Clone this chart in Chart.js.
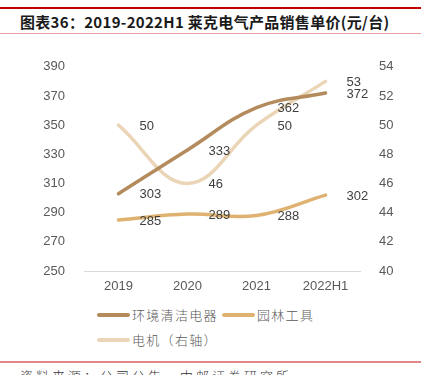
<!DOCTYPE html>
<html>
<head>
<meta charset="utf-8">
<script src="https://cdn.jsdelivr.net/npm/chart.js@4/dist/chart.umd.min.js"></script>
<style>
  html, body { margin: 0; padding: 0; background: #fff; }
  body { width: 421px; height: 375px; position: relative; overflow: hidden; font-family: "Noto Sans CJK SC", sans-serif; }
  .topline { position: absolute; left: 0; top: 7px; width: 421px; height: 2px; background: #C00000; }
  .title { position: absolute; left: 20px; top: 12px; font-size: 15px; font-weight: bold; color: #1a1a1a; white-space: nowrap; line-height: 20px; letter-spacing: 0.3px; }
  .subline { position: absolute; left: 0; top: 33px; width: 421px; height: 1px; background: #E8A0A0; }
  .chartbox { position: absolute; left: 0; top: 40px; width: 421px; height: 260px; }
  .legend { position: absolute; left: 97px; top: 305px; width: 320px; }
  .legend .item { position: absolute; display: flex; align-items: center; font-size: 13px; color: #595959; letter-spacing: 1.3px; white-space: nowrap; font-weight: 300; }
  .legend .swatch { width: 33px; height: 4px; border-radius: 2px; margin-right: 2px; }
  .botline { position: absolute; left: 0; top: 361px; width: 421px; height: 2px; background: #E08888; }
  .source { position: absolute; left: 20px; top: 366px; font-size: 13px; color: #333; letter-spacing: 3px; white-space: nowrap; font-weight: 300; }
</style>
</head>
<body>
<div class="topline"></div>
<div class="title">图表36：2019-2022H1 莱克电气产品销售单价(元/台)</div>
<div class="subline"></div>
<div class="chartbox"><canvas id="chart" width="421" height="260"></canvas></div>
<div class="legend" id="legend"></div>
<div class="botline"></div>
<div class="source">资料来源：公司公告，中邮证券研究所</div>
<script>
// 類別與數據
const years = ['2019', '2020', '2021', '2022H1'];
const cleaningPrice = [303, 333, 362, 372];   // 环境清洁电器
const gardenPrice = [285, 289, 288, 302];     // 园林工具
const motorPrice = [50, 46, 50, 53];          // 电机（右轴）

const seriesNames = ['环境清洁电器', '园林工具', '电机（右轴）'];
const colors = ['#B38B5C', '#DFB272', '#EBD5B7'];

// 數據標籤外掛：畫在點的右側
const pointLabels = {
    id: 'pointLabels',
    afterDatasetsDraw(chart) {
        const ctx = chart.ctx;
        ctx.save();
        ctx.font = '13px "Liberation Sans", Arial, sans-serif';
        ctx.fillStyle = '#404040';
        ctx.textAlign = 'left';
        ctx.textBaseline = 'middle';
        chart.data.datasets.forEach((ds, i) => {
            const meta = chart.getDatasetMeta(i);
            meta.data.forEach((pt, j) => {
                ctx.fillText(String(ds.data[j]), pt.x + 21, pt.y + 1);
            });
        });
        ctx.restore();
    }
};

const tickFont = { size: 13, family: '"Liberation Sans", Arial, sans-serif' };

new Chart(document.getElementById('chart'), {
    type: 'line',
    data: {
        labels: years,
        datasets: [
            { label: seriesNames[0], data: cleaningPrice, borderColor: colors[0], yAxisID: 'y' },
            { label: seriesNames[1], data: gardenPrice, borderColor: colors[1], yAxisID: 'y' },
            { label: seriesNames[2], data: motorPrice, borderColor: colors[2], yAxisID: 'y1' }
        ].map(d => Object.assign(d, {
            borderWidth: 3.5,
            tension: 0.4,
            pointRadius: 0,
            fill: false,
            borderCapStyle: 'round'
        }))
    },
    options: {
        responsive: false,
        animation: false,
        layout: { padding: { top: 16, left: 0, right: 0, bottom: 0 } },
        plugins: { legend: { display: false }, tooltip: { enabled: false } },
        scales: {
            x: {
                offset: true,
                grid: { display: false, drawTicks: false },
                border: { display: true, color: '#D9D9D9', width: 1 },
                ticks: { color: '#595959', font: tickFont, padding: 8 },
                afterFit(scale) { scale.height = 29; }
            },
            y: {
                position: 'left',
                min: 250, max: 390,
                grid: { display: false, drawTicks: false },
                border: { display: false },
                ticks: { stepSize: 20, color: '#595959', font: tickFont, padding: 19 },
                afterFit(scale) { scale.width = 84; }
            },
            y1: {
                position: 'right',
                min: 40, max: 54,
                grid: { display: false, drawTicks: false },
                border: { display: false },
                ticks: { stepSize: 2, color: '#595959', font: tickFont, padding: 19 },
                afterFit(scale) { scale.width = 61; }
            }
        }
    },
    plugins: [pointLabels]
});

// HTML 圖例
const legendPos = [[0, 0], [125, 0], [0, 25]];
const legendEl = document.getElementById('legend');
seriesNames.forEach((name, i) => {
    const item = document.createElement('div');
    item.className = 'item';
    item.style.left = legendPos[i][0] + 'px';
    item.style.top = legendPos[i][1] + 'px';
    item.innerHTML = `<span class="swatch" style="background:${colors[i]}"></span><span>${name}</span>`;
    legendEl.appendChild(item);
});
</script>
</body>
</html>
